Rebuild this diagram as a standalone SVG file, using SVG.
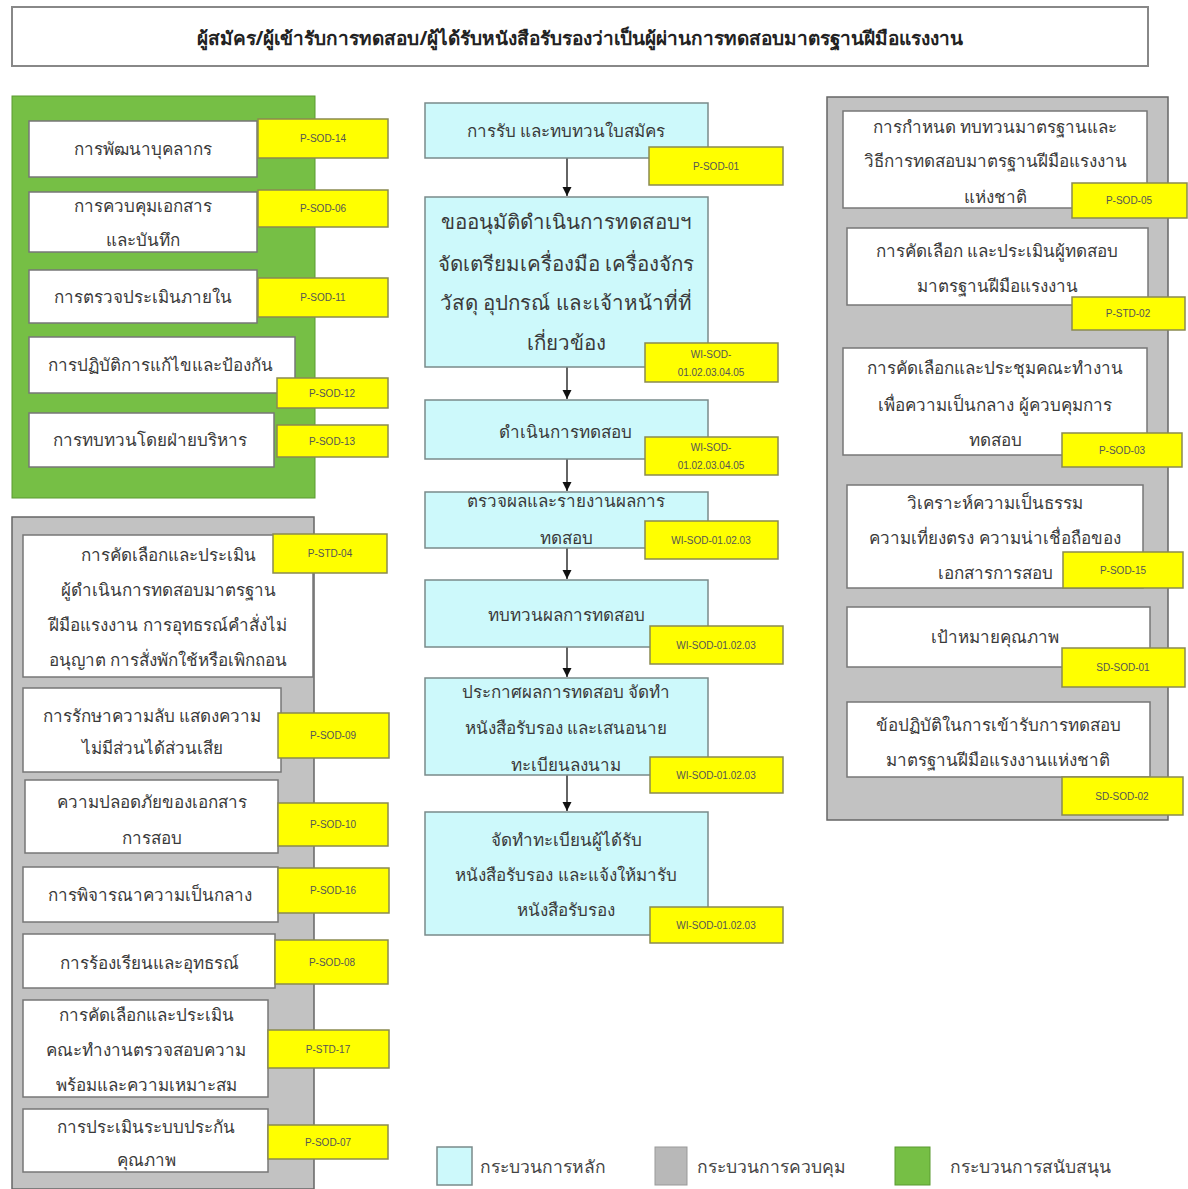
<svg xmlns="http://www.w3.org/2000/svg" width="1188" height="1189" viewBox="0 0 1188 1189">
<defs>
<style>
.t{font-family:"Noto Sans","Noto Sans CJK SC","DejaVu Sans",sans-serif;font-size:17px;fill:#3a3a3a;text-anchor:middle}
.tb{font-family:"Noto Sans","Noto Sans CJK SC","DejaVu Sans",sans-serif;font-size:20.5px;fill:#3a3a3a;text-anchor:middle}
.lab{font-family:"Liberation Sans",Arial,sans-serif;font-size:10px;fill:#555;text-anchor:middle}
.ttl{font-family:"Noto Sans","Noto Sans CJK SC","DejaVu Sans",sans-serif;font-size:19px;font-weight:bold;fill:#222;text-anchor:middle}
.wb{fill:#fff;stroke:#777;stroke-width:1.5}
.cb{fill:#cdf9fb;stroke:#7a8a8a;stroke-width:1.5}
.yl{fill:#ffff00;stroke:#8a8a50;stroke-width:1.5}
.gp{fill:#c2c2c2;stroke:#666;stroke-width:1.5}
.grn{fill:#76bf45;stroke:#5a9a30;stroke-width:1}
.lg{font-family:"Noto Sans","Noto Sans CJK SC","DejaVu Sans",sans-serif;font-size:17.5px;fill:#444}
</style>
<marker id="ah" viewBox="0 0 10 10" refX="10" refY="5" markerWidth="7" markerHeight="7" orient="auto"><path d="M0,0L10,5L0,10z" fill="#111"/></marker>
</defs>
<rect width="1188" height="1189" fill="#fff"/>

<g id="title">
<rect x="12" y="7" width="1136" height="59" fill="#fff" stroke="#888" stroke-width="2"/>
<text class="ttl" x="580" y="45">ผู้สมัคร/ผู้เข้ารับการทดสอบ/ผู้ได้รับหนังสือรับรองว่าเป็นผู้ผ่านการทดสอบมาตรฐานฝีมือแรงงาน</text>
</g>

<!-- Panels -->
<g id="panel-support"><rect class="grn" x="12" y="96" width="303" height="402"/></g>
<g id="panel-control-left"><rect class="gp" x="12" y="517" width="302" height="672"/></g>
<g id="panel-control-right"><rect class="gp" x="827" y="97" width="341" height="723"/></g>

<!-- Support boxes -->
<g id="s1"><rect class="wb" x="29" y="121" width="228" height="56"/><text class="t" x="143" y="155">การพัฒนาบุคลากร</text>
<rect class="yl" x="258" y="119" width="130" height="39"/><text class="lab" x="323" y="142">P-SOD-14</text></g>
<g id="s2"><rect class="wb" x="29" y="192" width="228" height="60"/><text class="t" x="143" y="212">การควบคุมเอกสาร</text><text class="t" x="143" y="246">และบันทึก</text>
<rect class="yl" x="258" y="190" width="130" height="37"/><text class="lab" x="323" y="212">P-SOD-06</text></g>
<g id="s3"><rect class="wb" x="29" y="270" width="228" height="53"/><text class="t" x="143" y="303">การตรวจประเมินภายใน</text>
<rect class="yl" x="258" y="278" width="130" height="39"/><text class="lab" x="323" y="301">P-SOD-11</text></g>
<g id="s4"><rect class="wb" x="29" y="337" width="266" height="56"/><text class="t" x="160" y="371">การปฏิบัติการแก้ไขและป้องกัน</text>
<rect class="yl" x="277" y="378" width="111" height="30"/><text class="lab" x="332" y="397">P-SOD-12</text></g>
<g id="s5"><rect class="wb" x="29" y="413" width="245" height="54"/><text class="t" x="150" y="446">การทบทวนโดยฝ่ายบริหาร</text>
<rect class="yl" x="277" y="425" width="111" height="32"/><text class="lab" x="332" y="445">P-SOD-13</text></g>

<!-- Left control boxes -->
<g id="l1"><rect class="wb" x="23" y="535" width="290" height="142"/>
<text class="t" x="168" y="561">การคัดเลือกและประเมิน</text>
<text class="t" x="168" y="596">ผู้ดำเนินการทดสอบมาตรฐาน</text>
<text class="t" x="168" y="631">ฝีมือแรงงาน การอุทธรณ์คำสั่งไม่</text>
<text class="t" x="168" y="666">อนุญาต การสั่งพักใช้หรือเพิกถอน</text>
<rect class="yl" x="273" y="534" width="114" height="39"/><text class="lab" x="330" y="557">P-STD-04</text></g>
<g id="l2"><rect class="wb" x="23" y="688" width="258" height="84"/>
<text class="t" x="152" y="722">การรักษาความลับ แสดงความ</text>
<text class="t" x="152" y="754">ไม่มีส่วนได้ส่วนเสีย</text>
<rect class="yl" x="278" y="713" width="111" height="45"/><text class="lab" x="333" y="739">P-SOD-09</text></g>
<g id="l3"><rect class="wb" x="25" y="780" width="253" height="73"/>
<text class="t" x="152" y="808">ความปลอดภัยของเอกสาร</text>
<text class="t" x="152" y="844">การสอบ</text>
<rect class="yl" x="278" y="803" width="110" height="43"/><text class="lab" x="333" y="828">P-SOD-10</text></g>
<g id="l4"><rect class="wb" x="23" y="867" width="255" height="55"/>
<text class="t" x="150" y="901">การพิจารณาความเป็นกลาง</text>
<rect class="yl" x="278" y="868" width="111" height="45"/><text class="lab" x="333" y="894">P-SOD-16</text></g>
<g id="l5"><rect class="wb" x="23" y="934" width="252" height="54"/>
<text class="t" x="149" y="969">การร้องเรียนและอุทธรณ์</text>
<rect class="yl" x="275" y="940" width="113" height="44"/><text class="lab" x="332" y="966">P-SOD-08</text></g>
<g id="l6"><rect class="wb" x="23" y="1000" width="245" height="97"/>
<text class="t" x="146" y="1021">การคัดเลือกและประเมิน</text>
<text class="t" x="146" y="1056">คณะทำงานตรวจสอบความ</text>
<text class="t" x="146" y="1091">พร้อมและความเหมาะสม</text>
<rect class="yl" x="268" y="1030" width="121" height="38"/><text class="lab" x="328" y="1053">P-STD-17</text></g>
<g id="l7"><rect class="wb" x="23" y="1109" width="245" height="63"/>
<text class="t" x="146" y="1133">การประเมินระบบประกัน</text>
<text class="t" x="146" y="1166">คุณภาพ</text>
<rect class="yl" x="268" y="1125" width="120" height="34"/><text class="lab" x="328" y="1146">P-SOD-07</text></g>

<!-- Connectors -->
<g id="connectors" stroke="#111" stroke-width="1.3" fill="none">
<line x1="567" y1="158" x2="567" y2="196" marker-end="url(#ah)"/>
<line x1="567" y1="367" x2="567" y2="399" marker-end="url(#ah)"/>
<line x1="567" y1="459" x2="567" y2="491" marker-end="url(#ah)"/>
<line x1="567" y1="548" x2="567" y2="579" marker-end="url(#ah)"/>
<line x1="567" y1="647" x2="567" y2="677" marker-end="url(#ah)"/>
<line x1="567" y1="775" x2="567" y2="811" marker-end="url(#ah)"/>
</g>

<!-- Main boxes -->
<g id="m1"><rect class="cb" x="425" y="103" width="283" height="55"/>
<text class="t" x="566" y="137">การรับ และทบทวนใบสมัคร</text>
<rect class="yl" x="649" y="147" width="134" height="38"/><text class="lab" x="716" y="170">P-SOD-01</text></g>
<g id="m2"><rect class="cb" x="425" y="197" width="283" height="170"/>
<text class="tb" x="566" y="229">ขออนุมัติดำเนินการทดสอบฯ</text>
<text class="tb" x="566" y="271">จัดเตรียมเครื่องมือ เครื่องจักร</text>
<text class="tb" x="566" y="310">วัสดุ อุปกรณ์ และเจ้าหน้าที่ที่</text>
<text class="tb" x="566" y="350">เกี่ยวข้อง</text>
<rect class="yl" x="645" y="343" width="133" height="39"/><text class="lab" x="711" y="358">WI-SOD-</text><text class="lab" x="711" y="376">01.02.03.04.05</text></g>
<g id="m3"><rect class="cb" x="425" y="400" width="283" height="59"/>
<text class="t" x="565" y="438">ดำเนินการทดสอบ</text>
<rect class="yl" x="645" y="437" width="133" height="38"/><text class="lab" x="711" y="451">WI-SOD-</text><text class="lab" x="711" y="469">01.02.03.04.05</text></g>
<g id="m4"><rect class="cb" x="425" y="492" width="283" height="56"/>
<text class="t" x="566" y="507">ตรวจผลและรายงานผลการ</text>
<text class="t" x="566" y="544">ทดสอบ</text>
<rect class="yl" x="645" y="521" width="133" height="38"/><text class="lab" x="711" y="544">WI-SOD-01.02.03</text></g>
<g id="m5"><rect class="cb" x="425" y="580" width="283" height="67"/>
<text class="t" x="566" y="621">ทบทวนผลการทดสอบ</text>
<rect class="yl" x="650" y="626" width="133" height="38"/><text class="lab" x="716" y="649">WI-SOD-01.02.03</text></g>
<g id="m6"><rect class="cb" x="425" y="678" width="283" height="97"/>
<text class="t" x="566" y="698">ประกาศผลการทดสอบ จัดทำ</text>
<text class="t" x="566" y="734">หนังสือรับรอง และเสนอนาย</text>
<text class="t" x="566" y="771">ทะเบียนลงนาม</text>
<rect class="yl" x="650" y="757" width="133" height="36"/><text class="lab" x="716" y="779">WI-SOD-01.02.03</text></g>
<g id="m7"><rect class="cb" x="425" y="812" width="283" height="123"/>
<text class="t" x="566" y="846">จัดทำทะเบียนผู้ได้รับ</text>
<text class="t" x="566" y="881">หนังสือรับรอง และแจ้งให้มารับ</text>
<text class="t" x="566" y="916">หนังสือรับรอง</text>
<rect class="yl" x="650" y="907" width="133" height="36"/><text class="lab" x="716" y="929">WI-SOD-01.02.03</text></g>

<!-- Right control boxes -->
<g id="r1"><rect class="wb" x="843" y="111" width="304" height="97"/>
<text class="t" x="995" y="133">การกำหนด ทบทวนมาตรฐานและ</text>
<text class="t" x="995" y="167">วิธีการทดสอบมาตรฐานฝีมือแรงงาน</text>
<text class="t" x="995" y="203">แห่งชาติ</text>
<rect class="yl" x="1072" y="183" width="115" height="35"/><text class="lab" x="1129" y="204">P-SOD-05</text></g>
<g id="r2"><rect class="wb" x="847" y="228" width="301" height="77"/>
<text class="t" x="997" y="257">การคัดเลือก และประเมินผู้ทดสอบ</text>
<text class="t" x="997" y="292">มาตรฐานฝีมือแรงงาน</text>
<rect class="yl" x="1072" y="297" width="113" height="33"/><text class="lab" x="1128" y="317">P-STD-02</text></g>
<g id="r3"><rect class="wb" x="843" y="348" width="304" height="107"/>
<text class="t" x="995" y="374">การคัดเลือกและประชุมคณะทำงาน</text>
<text class="t" x="995" y="411">เพื่อความเป็นกลาง ผู้ควบคุมการ</text>
<text class="t" x="995" y="446">ทดสอบ</text>
<rect class="yl" x="1062" y="433" width="120" height="34"/><text class="lab" x="1122" y="454">P-SOD-03</text></g>
<g id="r4"><rect class="wb" x="847" y="485" width="296" height="103"/>
<text class="t" x="995" y="509">วิเคราะห์ความเป็นธรรม</text>
<text class="t" x="995" y="544">ความเที่ยงตรง ความน่าเชื่อถือของ</text>
<text class="t" x="995" y="579">เอกสารการสอบ</text>
<rect class="yl" x="1063" y="552" width="120" height="36"/><text class="lab" x="1123" y="574">P-SOD-15</text></g>
<g id="r5"><rect class="wb" x="847" y="607" width="303" height="60"/>
<text class="t" x="995" y="643">เป้าหมายคุณภาพ</text>
<rect class="yl" x="1062" y="648" width="123" height="39"/><text class="lab" x="1123" y="671">SD-SOD-01</text></g>
<g id="r6"><rect class="wb" x="847" y="702" width="303" height="75"/>
<text class="t" x="998" y="731">ข้อปฏิบัติในการเข้ารับการทดสอบ</text>
<text class="t" x="998" y="766">มาตรฐานฝีมือแรงงานแห่งชาติ</text>
<rect class="yl" x="1062" y="777" width="121" height="38"/><text class="lab" x="1122" y="800">SD-SOD-02</text></g>

<!-- Legend -->
<g id="legend">
<rect x="437" y="1147" width="35" height="38" fill="#cdf9fb" stroke="#7a8a8a" stroke-width="1.5"/>
<text class="lg" x="480" y="1173">กระบวนการหลัก</text>
<rect x="655" y="1147" width="32" height="38" fill="#b8b8b8" stroke="#999" stroke-width="1"/>
<text class="lg" x="697" y="1173">กระบวนการควบคุม</text>
<rect x="895" y="1147" width="35" height="38" fill="#76bf45" stroke="#5a9a30" stroke-width="1"/>
<text class="lg" x="950" y="1173">กระบวนการสนับสนุน</text>
</g>
</svg>
